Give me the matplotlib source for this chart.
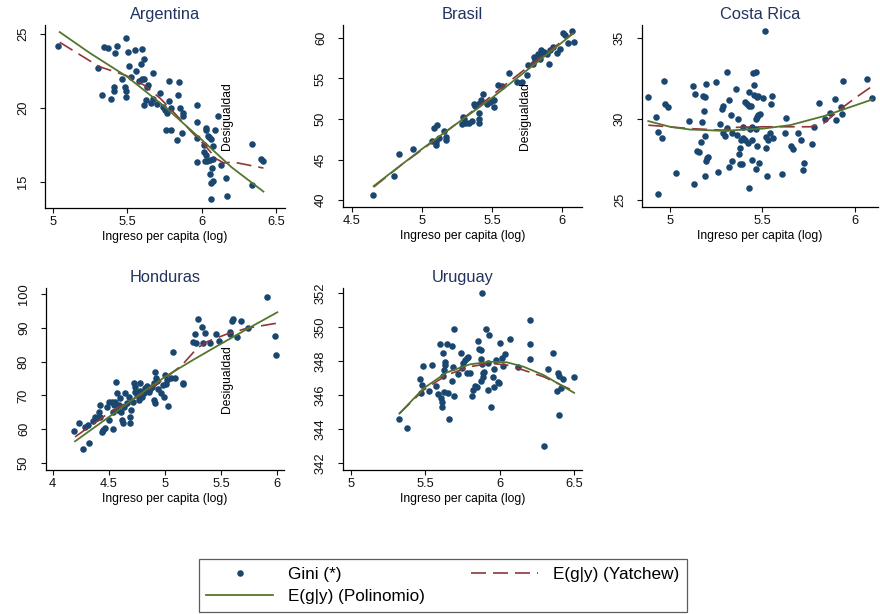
import matplotlib
matplotlib.use("Agg")
import matplotlib.pyplot as plt
from matplotlib.lines import Line2D

plt.rcParams["font.family"] = ["Liberation Sans", "DejaVu Sans"]

# Colours (Stata s2color-like)
NAVY = "#1a476f"
MAROON = "#90353b"
GREEN = "#55752f"
TITLE_COLOR = "#23335f"

# ---------------- Argentina ----------------
arg_x = [5.036, 5.373, 5.494, 5.303, 5.346, 5.427, 5.416, 5.332, 5.388, 5.409,
         5.409, 5.463, 5.503, 5.508, 5.553, 5.595, 5.555, 5.591, 5.613, 5.523,
         5.487, 5.494, 5.494, 5.579, 5.611, 5.600, 5.672, 5.642, 5.631, 5.624,
         5.615, 5.662, 5.696, 5.719, 5.672, 5.741, 5.777, 5.777, 5.844, 5.838,
         5.764, 5.752, 5.791, 5.853, 5.871, 5.876, 5.759, 5.791, 5.865, 5.835,
         5.966, 5.968, 5.966, 5.966, 6.026, 6.026, 6.044, 6.049, 6.060, 6.015,
         6.089, 6.112, 6.015, 6.026, 6.033, 6.055, 6.078, 6.067, 6.055, 6.060,
         6.073, 6.060, 6.129, 6.163, 6.168, 6.022, 6.341, 6.339, 6.401, 6.415,
         6.078]
arg_gini = [24.21, 24.03, 24.75, 22.69, 24.10, 24.21, 23.70, 20.87, 20.60, 21.40,
            21.16, 21.97, 23.81, 22.87, 23.92, 23.97, 22.53, 22.98, 23.29, 22.10,
            21.40, 21.16, 20.73, 21.85, 21.99, 21.94, 22.39, 21.54, 21.40, 20.55,
            20.21, 20.37, 20.28, 20.98, 20.60, 20.10, 20.44, 21.83, 21.79, 20.89,
            19.65, 19.88, 19.99, 19.99, 19.65, 19.43, 18.53, 18.53, 18.30, 17.81,
            20.21, 19.02, 17.97, 16.33, 18.66, 18.53, 18.12, 18.01, 17.90, 17.52,
            18.48, 19.47, 17.00, 16.84, 16.40, 16.51, 16.55, 15.94, 15.56, 14.93,
            15.04, 13.85, 16.12, 15.27, 14.03, 16.40, 17.54, 14.82, 16.55, 16.40,
            17.41]
arg_pol_x = [5.045, 5.25, 5.5, 5.75, 6.0, 6.2, 6.415]
arg_pol_y = [25.13, 23.7, 22.1, 20.1, 17.85, 16.0, 14.35]
arg_yat_x = [5.045, 5.31, 5.49, 5.61, 5.72, 5.775, 5.85, 5.93, 6.01, 6.10, 6.15, 6.21, 6.415]
arg_yat_y = [24.44, 22.8, 22.2, 21.56, 20.66, 20.1, 19.3, 18.4, 17.6, 16.55, 16.28, 16.35, 15.94]

# ---------------- Brasil ----------------
bra_x = [4.650, 4.802, 4.833, 4.936, 5.083, 5.107, 5.100, 5.100, 5.071, 5.124,
         5.155, 5.174, 5.174, 5.290, 5.300, 5.286, 5.357, 5.333, 5.314, 5.405,
         5.405, 5.405, 5.400, 5.381, 5.369, 5.421, 5.436, 5.464, 5.488, 5.507,
         5.517, 5.540, 5.571, 5.619, 5.512, 5.679, 5.714, 5.750, 5.760, 5.790,
         5.810, 5.826, 5.840, 5.845, 5.869, 5.893, 5.912, 5.936, 5.964, 5.905,
         5.983, 6.007, 6.024, 6.071, 6.040, 6.088, 5.850, 5.798]
bra_gini = [40.62, 42.96, 45.71, 46.28, 48.83, 49.24, 47.19, 46.78, 47.31, 47.60,
            48.50, 47.72, 47.39, 50.27, 50.06, 49.36, 49.77, 49.45, 49.53, 49.98,
            49.45, 50.76, 51.83, 51.58, 51.91, 52.40, 53.06, 51.83, 52.11, 52.40,
            51.42, 54.17, 54.05, 55.69, 52.40, 54.58, 54.58, 55.48, 56.71, 56.76,
            57.25, 58.07, 57.86, 57.45, 58.28, 58.07, 58.48, 58.89, 58.15, 56.76,
            58.69, 60.62, 60.41, 60.82, 59.38, 59.51, 58.48, 57.66]
bra_pol_x = [4.655, 5.0, 5.5, 6.079]
bra_pol_y = [41.72, 46.3, 52.6, 60.53]
bra_yat_x = [4.655, 4.85, 5.0, 5.2, 5.4, 5.6, 5.8, 6.079]
bra_yat_y = [41.6, 44.3, 46.2, 48.8, 51.5, 54.3, 57.0, 60.6]

# ---------------- Costa Rica ----------------
cr_x = [4.879, 4.923, 4.933, 4.937, 4.959, 4.969, 4.971, 4.991, 5.031, 5.103,
        5.123, 5.137, 5.132, 5.144, 5.155, 5.166, 5.173, 5.180, 5.189, 5.186,
        5.191, 5.195, 5.189, 5.198, 5.207, 5.196, 5.247, 5.261, 5.268, 5.279,
        5.288, 5.297, 5.285, 5.306, 5.310, 5.319, 5.319, 5.328, 5.337, 5.337,
        5.355, 5.360, 5.366, 5.373, 5.378, 5.387, 5.378, 5.384, 5.393, 5.396,
        5.404, 5.405, 5.416, 5.422, 5.425, 5.425, 5.429, 5.440, 5.432, 5.441,
        5.445, 5.443, 5.450, 5.463, 5.456, 5.454, 5.468, 5.477, 5.463, 5.468,
        5.477, 5.486, 5.463, 5.468, 5.463, 5.482, 5.505, 5.514, 5.517, 5.521,
        5.523, 5.532, 5.541, 5.546, 5.550, 5.555, 5.604, 5.622, 5.627, 5.656,
        5.667, 5.694, 5.706, 5.717, 5.723, 5.768, 5.778, 5.807, 5.865, 5.892,
        5.895, 5.926, 5.933, 5.928, 6.065, 6.092, 5.840]
cr_gini = [31.34, 30.11, 29.17, 25.37, 28.84, 32.33, 30.95, 30.75, 26.68, 29.89,
           32.04, 31.53, 25.99, 28.02, 27.98, 28.55, 29.80, 31.41, 31.37, 30.50,
           28.94, 32.19, 26.50, 27.57, 27.67, 27.42, 32.29, 26.75, 29.72, 30.63,
           30.83, 28.94, 29.11, 29.42, 32.90, 31.16, 27.01, 30.24, 29.11, 27.40,
           31.84, 29.02, 30.03, 27.87, 27.22, 27.20, 28.18, 28.70, 28.80, 29.52,
           28.70, 31.06, 30.95, 28.49, 31.67, 25.76, 30.81, 30.79, 29.41, 29.52,
           27.46, 28.70, 32.86, 32.90, 32.08, 31.51, 31.37, 31.43, 30.03, 30.13,
           30.24, 30.30, 29.41, 28.35, 26.89, 27.30, 31.32, 35.41, 28.90, 28.24,
           26.48, 28.70, 29.11, 30.95, 31.43, 28.80, 26.60, 29.15, 30.07, 28.33,
           28.14, 29.11, 28.70, 26.85, 27.26, 28.45, 29.50, 31.00, 30.38, 31.22,
           29.91, 30.71, 32.37, 30.32, 32.47, 31.32, 29.99]
cr_pol_x = [4.883, 5.0, 5.108, 5.288, 5.505, 5.649, 5.829, 5.937, 6.092]
cr_pol_y = [29.87, 29.52, 29.35, 29.27, 29.41, 29.62, 30.17, 30.59, 31.20]
cr_yat_x = [4.883, 5.108, 5.288, 5.342, 5.505, 5.757, 5.829, 5.937, 6.009, 6.092]
cr_yat_y = [29.62, 29.41, 29.31, 29.48, 29.52, 29.52, 29.72, 30.75, 31.36, 32.02]

# ---------------- Honduras ----------------
hon_x = [4.190, 4.238, 4.274, 4.289, 4.310, 4.327, 4.363, 4.378, 4.393, 4.408,
         4.417, 4.423, 4.438, 4.452, 4.467, 4.482, 4.497, 4.503, 4.536, 4.536,
         4.545, 4.557, 4.565, 4.571, 4.577, 4.586, 4.601, 4.610, 4.616, 4.625,
         4.631, 4.646, 4.661, 4.676, 4.685, 4.690, 4.699, 4.711, 4.720, 4.729,
         4.735, 4.750, 4.765, 4.774, 4.780, 4.795, 4.810, 4.824, 4.839, 4.854,
         4.869, 4.884, 4.899, 4.905, 4.908, 4.914, 4.920, 4.929, 4.935, 4.967,
         4.979, 4.994, 5.003, 5.012, 5.018, 5.024, 5.054, 5.068, 5.086, 5.161,
         5.161, 5.250, 5.265, 5.280, 5.295, 5.330, 5.336, 5.354, 5.405, 5.458,
         5.485, 5.577, 5.583, 5.598, 5.607, 5.637, 5.673, 5.738, 5.911, 5.982,
         5.988, 4.527]
hon_gini = [59.50, 61.68, 54.06, 60.69, 61.19, 55.94, 62.48, 63.66, 63.17, 65.15,
            67.13, 63.66, 59.21, 59.70, 60.20, 66.44, 68.12, 62.67, 59.90, 65.15,
            67.13, 68.12, 73.86, 70.79, 65.64, 67.13, 69.11, 65.15, 62.67, 61.68,
            66.63, 70.59, 67.62, 69.60, 63.66, 61.68, 65.64, 68.12, 73.76, 72.57,
            71.09, 70.10, 68.61, 71.39, 73.56, 69.60, 70.59, 72.08, 72.77, 71.09,
            71.78, 72.57, 73.56, 68.61, 67.82, 76.83, 75.05, 74.36, 71.78, 70.59,
            73.07, 69.60, 76.04, 73.37, 74.55, 66.83, 75.05, 82.97, 75.05, 73.76,
            73.37, 85.94, 88.12, 85.64, 92.67, 90.20, 85.64, 88.42, 85.45, 88.12,
            86.24, 88.91, 88.22, 91.88, 92.57, 87.23, 91.88, 89.90, 99.01, 87.62,
            81.98, 68.12]
hon_pol_x = [4.199, 4.5, 4.75, 5.0, 5.25, 5.5, 5.75, 6.0]
hon_pol_y = [56.4, 63.6, 69.7, 75.5, 80.5, 85.3, 90.0, 94.6]
hon_yat_x = [4.199, 4.512, 4.81, 5.018, 5.152, 5.286, 5.375, 5.554, 5.732, 6.0]
hon_yat_y = [57.7, 65.1, 70.6, 75.5, 79.0, 83.96, 85.9, 88.2, 89.9, 91.4]

# ---------------- Uruguay ----------------
uru_x = [5.321, 5.379, 5.464, 5.475, 5.482, 5.471, 5.527, 5.543, 5.571, 5.587,
         5.599, 5.605, 5.610, 5.610, 5.621, 5.626, 5.632, 5.632, 5.617, 5.628,
         5.643, 5.655, 5.661, 5.677, 5.684, 5.677, 5.693, 5.693, 5.722, 5.738,
         5.749, 5.755, 5.767, 5.778, 5.784, 5.778, 5.800, 5.811, 5.822, 5.834,
         5.845, 5.852, 5.860, 5.872, 5.872, 5.874, 5.879, 5.886, 5.897, 5.908,
         5.919, 5.930, 5.924, 5.942, 5.957, 5.962, 5.962, 5.973, 5.991, 5.998,
         6.002, 6.013, 6.025, 6.036, 6.070, 6.126, 6.200, 6.200, 6.204, 6.298,
         6.323, 6.357, 6.383, 6.394, 6.399, 6.401, 6.413, 6.424, 6.500, 5.879,
         5.890]
uru_gini = [344.62, 344.05, 346.92, 346.59, 347.71, 346.13, 346.23, 347.77, 346.55, 346.09,
            349.01, 345.80, 345.60, 345.31, 348.50, 347.47, 347.96, 347.77, 347.12, 346.19,
            349.01, 346.13, 344.62, 348.89, 347.63, 346.82, 349.87, 345.96, 347.24, 348.50,
            347.61, 347.91, 348.06, 348.16, 348.26, 347.28, 347.28, 345.96, 346.29, 346.53,
            346.49, 349.19, 348.70, 348.66, 348.10, 346.84, 352.00, 347.28, 347.37, 349.87,
            347.87, 349.54, 346.29, 345.31, 347.04, 347.53, 346.49, 348.06, 346.79, 346.69,
            349.05, 348.16, 347.71, 348.40, 349.28, 347.67, 350.39, 349.01, 348.12, 343.00,
            347.53, 348.50, 346.23, 347.28, 347.14, 344.81, 346.39, 346.92, 347.04, 347.83,
            347.08]
uru_pol_x = [5.325, 5.487, 5.643, 5.800, 5.935, 6.047, 6.159, 6.294, 6.500]
uru_pol_y = [344.91, 346.39, 347.33, 347.81, 347.96, 347.93, 347.67, 347.18, 346.13]
uru_yat_x = [5.325, 5.487, 5.643, 5.800, 5.935, 6.047, 6.159, 6.294, 6.500]
uru_yat_y = [344.91, 346.29, 347.18, 347.67, 347.87, 347.77, 347.47, 347.08, 346.23]

FIG_W, FIG_H = 880, 614


def px_rect(left, right, top, bottom):
    # pixel box (from top-left) -> figure fraction rect
    return [left / FIG_W, 1 - bottom / FIG_H, (right - left) / FIG_W, (bottom - top) / FIG_H]


def draw_panel(fig, rect, title, x, gini, pol_x, pol_y, yat_x, yat_y,
               xlim, ylim, xticks, yticks, label_desig):
    ax = fig.add_axes(rect)
    ax.plot(x, gini, "o", color=NAVY, markersize=4.7, markeredgewidth=0, zorder=2)
    ax.plot(yat_x, yat_y, color=MAROON, lw=1.2, dashes=(9, 4.2), zorder=3)
    ax.plot(pol_x, pol_y, color=GREEN, lw=1.3, zorder=4)

    ax.set_xlim(xlim)
    ax.set_ylim(ylim)
    ax.set_xticks(xticks)
    ax.set_yticks(yticks)
    ax.set_xticklabels([f"{t:g}" for t in xticks])
    ax.set_yticklabels([f"{t:g}" for t in yticks], rotation=90, va="center")
    ax.tick_params(axis="both", direction="out", length=3.6, width=0.8,
                   labelsize=9.3, colors="#111111")
    ax.tick_params(axis="x", pad=2)
    ax.tick_params(axis="y", pad=8)
    for side in ("top", "right"):
        ax.spines[side].set_visible(False)
    for side in ("left", "bottom"):
        ax.spines[side].set_linewidth(0.9)

    ax.set_title(title, fontsize=11.8, color=TITLE_COLOR, pad=4)
    ax.set_xlabel("Ingreso per capita (log)", fontsize=8.7, labelpad=2)
    if label_desig:
        ax.text(0.76, 0.5, "Desigualdad", transform=ax.transAxes, rotation=90,
                ha="center", va="center", fontsize=8.7)
    return ax


def main():
    fig = plt.figure(figsize=(8.8, 6.14), dpi=100)

    draw_panel(fig, px_rect(45, 285, 25, 208), "Argentina",
               arg_x, arg_gini, arg_pol_x, arg_pol_y, arg_yat_x, arg_yat_y,
               (4.946, 6.56), (13.24, 25.61), [5, 5.5, 6, 6.5], [15, 20, 25], True)
    draw_panel(fig, px_rect(343, 582, 25, 207), "Brasil",
               bra_x, bra_gini, bra_pol_x, bra_pol_y, bra_yat_x, bra_yat_y,
               (4.436, 6.143), (39.14, 61.6), [4.5, 5, 5.5, 6], [40, 45, 50, 55, 60], True)
    draw_panel(fig, px_rect(642, 878, 25, 207), "Costa Rica",
               cr_x, cr_gini, cr_pol_x, cr_pol_y, cr_yat_x, cr_yat_y,
               (4.849, 6.124), (24.57, 35.8), [5, 5.5, 6], [25, 30, 35], False)
    draw_panel(fig, px_rect(46, 284, 288, 470), "Honduras",
               hon_x, hon_gini, hon_pol_x, hon_pol_y, hon_yat_x, hon_yat_y,
               (3.94, 6.06), (47.9, 101.8), [4, 4.5, 5, 5.5, 6],
               [50, 60, 70, 80, 90, 100], True)
    draw_panel(fig, px_rect(343, 582, 288, 470), "Uruguay",
               uru_x, uru_gini, uru_pol_x, uru_pol_y, uru_yat_x, uru_yat_y,
               (4.946, 6.553), (341.59, 352.3), [5, 5.5, 6, 6.5],
               [342, 344, 346, 348, 350, 352], False)

    # Legend: first column Gini / Polinomio, second column Yatchew
    handles = [
        Line2D([], [], ls="none", marker="o", color=NAVY, markersize=4.7, markeredgewidth=0),
        Line2D([], [], color=GREEN, lw=1.3),
        Line2D([], [], color=MAROON, lw=1.2, dashes=(9, 4.2)),
    ]
    labels = ["Gini (*)", "E(g|y) (Polinomio)", "E(g|y) (Yatchew)"]
    leg = fig.legend(handles, labels, ncol=2, loc="lower center",
                     bbox_to_anchor=(443 / FIG_W, 2 / FIG_H), fontsize=12.3,
                     frameon=True, fancybox=False, edgecolor="#333333",
                     handlelength=3.9, handletextpad=0.9, columnspacing=2.7,
                     labelspacing=0.45, borderpad=0.45, borderaxespad=0)
    leg.get_frame().set_linewidth(0.9)

    fig.savefig("out.png", dpi=100)


if __name__ == "__main__":
    main()
